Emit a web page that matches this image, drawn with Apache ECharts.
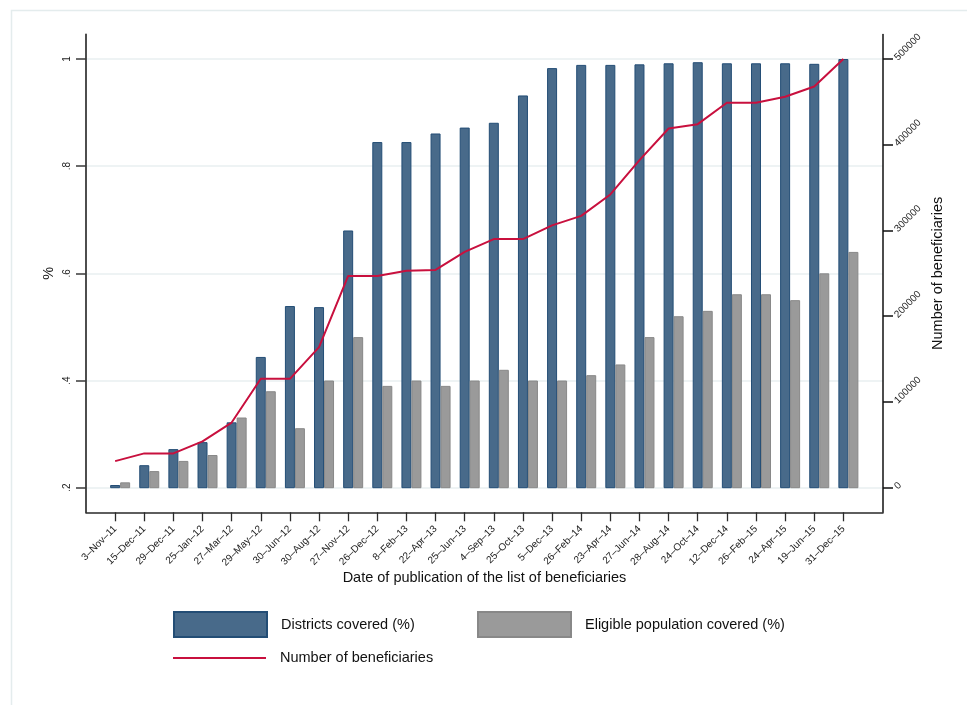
<!DOCTYPE html>
<html>
<head>
<meta charset="utf-8">
<script src="https://cdn.jsdelivr.net/npm/echarts@6/dist/echarts.min.js"></script>
<style>
html,body{margin:0;padding:0;background:#fff;}
#chart{width:967px;height:705px;}
</style>
</head>
<body>
<div id="chart"></div>
<script>
// ---- data ----
const dates = ['3–Nov–11','15–Dec–11','29–Dec–11','25–Jan–12','27–Mar–12','29–May–12','30–Jun–12','30–Aug–12','27–Nov–12','26–Dec–12','8–Feb–13','22–Apr–13','25–Jun–13','4–Sep–13','25–Oct–13','5–Dec–13','26–Feb–14','23–Apr–14','27–Jun–14','28–Aug–14','24–Oct–14','12–Dec–14','26–Feb–15','24–Apr–15','19–Jun–15','31–Dec–15'];
const districtsCovered = [0.205,0.242,0.272,0.285,0.322,0.444,0.539,0.537,0.680,0.845,0.845,0.861,0.872,0.881,0.932,0.983,0.989,0.989,0.990,0.992,0.994,0.992,0.992,0.992,0.991,1.000];
const eligibleCovered = [0.210,0.231,0.250,0.261,0.331,0.380,0.311,0.400,0.481,0.390,0.400,0.390,0.400,0.420,0.400,0.400,0.410,0.430,0.481,0.520,0.530,0.561,0.561,0.550,0.600,0.640];
const beneficiaries = [31000,40000,40000,54000,76000,127000,127000,164000,247000,247000,253000,254000,275000,290000,290000,306000,317000,342000,382000,419000,424000,449000,449000,456000,468000,500000];
const leftTicks = [0.2,0.4,0.6,0.8,1];
const leftTickLabels = ['.2','.4','.6','.8','1'];
const rightTicks = [0,100000,200000,300000,400000,500000];
const rightTickLabels = ['0','100000','200000','300000','400000','500000'];

const positions = dates.map((d, i) => i + 1);
const FONT = '"Liberation Sans", Arial, Helvetica, sans-serif';

const chart = echarts.init(document.getElementById('chart'), null, {renderer: 'canvas'});

const option = {
  animation: false,
  backgroundColor: '#ffffff',
  textStyle: {fontFamily: FONT},
  graphic: [{
    type: 'rect', silent: true, z: -10,
    shape: {x: 11.5, y: 10.5, width: 1000, height: 800},
    style: {fill: null, stroke: '#e4eced', lineWidth: 1.5}
  }],
  grid: [
    {left: 86, right: 84, top: 59, bottom: 217.3, outerBoundsMode: 'none'},
    {left: 86, right: 84, top: 34.5, bottom: 192.7, outerBoundsMode: 'none'}
  ],
  xAxis: [
    {
      type: 'value', gridIndex: 0, min: 0, max: 27.36,
      offset: 24.6,
      axisLine: {show: true, onZero: false, lineStyle: {color: '#2a2a2a', width: 1.5}},
      axisTick: {show: true, length: 9, customValues: positions, lineStyle: {color: '#2a2a2a', width: 1.3}},
      axisLabel: {
        show: true, customValues: positions, rotate: 45, margin: 15,
        fontSize: 10, color: '#222', fontFamily: FONT,
        formatter: function (v) { return dates[Math.round(v) - 1] || ''; }
      },
      splitLine: {show: false},
      name: 'Date of publication of the list of beneficiaries',
      nameLocation: 'middle', nameGap: 58, nameMoveOverlap: false,
      nameTextStyle: {fontSize: 14.5, color: '#111', fontFamily: FONT}
    },
    {type: 'value', gridIndex: 1, min: 0, max: 1, show: false}
  ],
  yAxis: [
    {
      type: 'value', gridIndex: 0, position: 'left', min: 0.2, max: 1, interval: 0.2,
      axisLine: {show: false, onZero: false},
      axisTick: {show: true, length: 10, lineStyle: {color: '#3a3a3a', width: 1.5}},
      axisLabel: {
        rotate: 90, margin: 14, fontSize: 10, color: '#222', fontFamily: FONT,
        formatter: function (v) {
          const i = leftTicks.findIndex(t => Math.abs(t - v) < 1e-6);
          return i >= 0 ? leftTickLabels[i] : '';
        }
      },
      splitLine: {show: true, lineStyle: {color: '#e8eff1', width: 1.5}},
      name: '%', nameLocation: 'middle', nameRotate: 90, nameGap: 30, nameMoveOverlap: false,
      nameTextStyle: {fontSize: 14.5, color: '#111', fontFamily: FONT}
    },
    {
      type: 'value', gridIndex: 0, position: 'right', min: 0, max: 500000, interval: 100000,
      axisLine: {show: false, onZero: false},
      axisTick: {show: true, length: 10, lineStyle: {color: '#111', width: 1.5}},
      axisLabel: {rotate: 45, margin: 13, fontSize: 10, color: '#222', fontFamily: FONT,
        formatter: function (v) {
          const i = rightTicks.findIndex(t => Math.abs(t - v) < 1e-6);
          return i >= 0 ? rightTickLabels[i] : '';
        }
      },
      splitLine: {show: false},
      name: 'Number of beneficiaries', nameLocation: 'middle', nameRotate: 90, nameGap: 47, nameMoveOverlap: false,
      nameTextStyle: {fontSize: 14.5, color: '#111', fontFamily: FONT}
    },
    {
      type: 'value', gridIndex: 1, position: 'left', min: 0, max: 1,
      axisLine: {show: true, onZero: false, lineStyle: {color: '#3a3a3a', width: 1.8}},
      axisTick: {show: false}, axisLabel: {show: false}, splitLine: {show: false}
    },
    {
      type: 'value', gridIndex: 1, position: 'right', min: 0, max: 1,
      axisLine: {show: true, onZero: false, lineStyle: {color: '#111', width: 1.5}},
      axisTick: {show: false}, axisLabel: {show: false}, splitLine: {show: false}
    }
  ],
  legend: [
    {
      left: 173, top: 611, padding: 0, itemWidth: 93, itemHeight: 25, icon: 'rect',
      data: ['Districts covered (%)'], selectedMode: false,
      textStyle: {fontSize: 14.5, color: '#111', fontFamily: FONT, padding: [0, 0, 0, 9]}
    },
    {
      left: 477, top: 611, padding: 0, itemWidth: 93, itemHeight: 25, icon: 'rect',
      data: ['Eligible population covered (%)'], selectedMode: false,
      textStyle: {fontSize: 14.5, color: '#111', fontFamily: FONT, padding: [0, 0, 0, 9]}
    },
    {
      left: 173, top: 650.5, padding: 0, itemWidth: 93, itemHeight: 2, icon: 'rect',
      data: ['Number of beneficiaries'], selectedMode: false,
      textStyle: {fontSize: 14.5, color: '#111', fontFamily: FONT, padding: [0, 0, 0, 9]}
    }
  ],
  series: [
    {
      name: 'spacer', type: 'bar', xAxisIndex: 0, yAxisIndex: 0,
      barWidth: 10, barGap: '0%', data: [], silent: true
    },
    {
      name: 'Districts covered (%)', type: 'bar', xAxisIndex: 0, yAxisIndex: 0,
      barWidth: 10, barGap: '0%',
      itemStyle: {color: '#486a8a', borderColor: '#234d75', borderWidth: 1},
      data: positions.map((x, i) => [x, districtsCovered[i]])
    },
    {
      name: 'Eligible population covered (%)', type: 'bar', xAxisIndex: 0, yAxisIndex: 0,
      barWidth: 10, barGap: '0%',
      itemStyle: {color: '#9a9a9a', borderColor: '#888888', borderWidth: 1},
      data: positions.map((x, i) => [x, eligibleCovered[i]])
    },
    {
      name: 'Number of beneficiaries', type: 'line', xAxisIndex: 0, yAxisIndex: 1,
      symbol: 'none', z: 5,
      lineStyle: {color: '#c8103e', width: 2},
      itemStyle: {color: '#c8103e'},
      data: positions.map((x, i) => [x, beneficiaries[i]])
    }
  ]
};
chart.setOption(option);
</script>
</body>
</html>
